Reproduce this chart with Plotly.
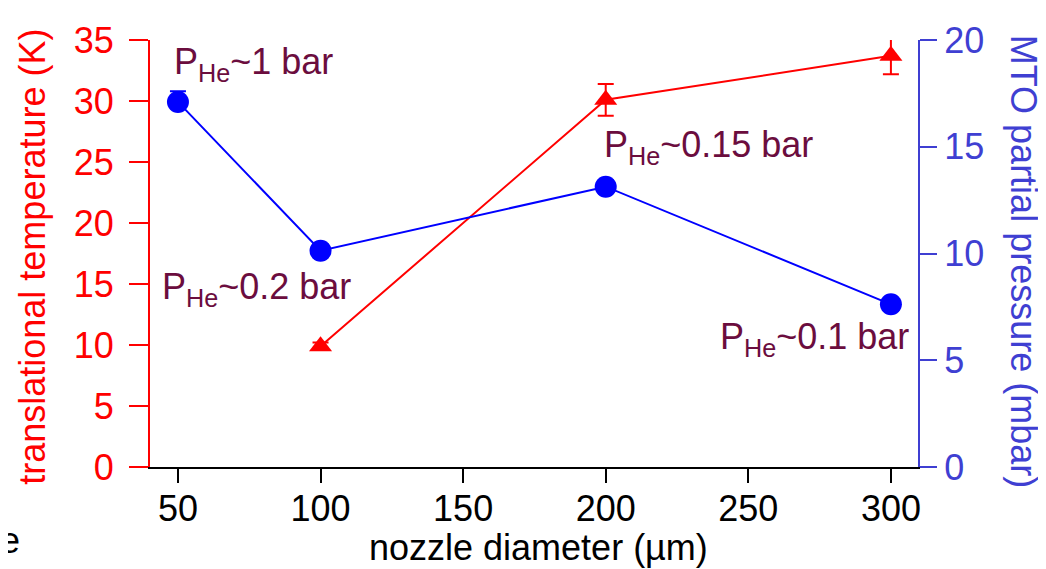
import plotly.graph_objects as go

# data
diam_T = [100, 200, 300]
temp_K = [9.9, 30.1, 33.7]
temp_err = [0.3, 1.3, 1.5]

diam_P = [50, 100, 200, 300]
mto_mbar = [17.1, 10.13, 13.13, 7.62]
mto_err_plus = [0.5, 0.3, 0.3, 0.3]
mto_err_minus = [0.3, 0.3, 0.3, 0.3]

x_ticks = [50, 100, 150, 200, 250, 300]
yl_ticks = [0, 5, 10, 15, 20, 25, 30, 35]
yr_ticks = [0, 5, 10, 15, 20]

labels = ["P<sub>He</sub>~1 bar", "P<sub>He</sub>~0.2 bar", "P<sub>He</sub>~0.15 bar", "P<sub>He</sub>~0.1 bar"]
label_x = [47.9, 43.7, 198.6, 239.4]
label_y = [33.0, 14.6, 26.25, 10.47]

RED = "#FF0000"
BLUE = "#0000FF"
AXBLUE = "#3F3FD2"
LABC = "#6B0D3E"
FONT = "Liberation Sans, Arial, sans-serif"
FS = 36

fig = go.Figure()
fig.add_trace(go.Scatter(
    x=diam_P, y=mto_mbar, yaxis="y2", mode="lines+markers",
    line=dict(color=BLUE, width=2),
    marker=dict(symbol="circle", size=22, color=BLUE),
    error_y=dict(type="data", symmetric=False, array=mto_err_plus,
                 arrayminus=mto_err_minus, color=BLUE, thickness=2, width=8),
    showlegend=False))
fig.add_trace(go.Scatter(
    x=diam_T, y=temp_K, mode="lines+markers",
    line=dict(color=RED, width=2),
    marker=dict(symbol="triangle-up", size=20, color=RED),
    error_y=dict(type="data", array=temp_err, color=RED, thickness=2, width=8),
    showlegend=False))

for t, x, y in zip(labels, label_x, label_y):
    fig.add_annotation(x=x, y=y, xref="x", yref="y", text=t, showarrow=False,
                       xanchor="left", yanchor="middle",
                       font=dict(family=FONT, size=FS, color=LABC))

fig.add_annotation(x=-0.153, y=0.4935, xref="paper", yref="paper",
                   text="translational temperature (K)", textangle=-90,
                   xanchor="center", yanchor="middle",
                   showarrow=False, font=dict(family=FONT, size=FS, color=RED))
fig.add_annotation(x=1.1367, y=0.4807, xref="paper", yref="paper",
                   text="MTO partial pressure (mbar)", textangle=90,
                   xanchor="center", yanchor="middle",
                   showarrow=False, font=dict(family=FONT, size=FS, color=AXBLUE))
fig.add_annotation(x=0.5059, y=-0.1895, xref="paper", yref="paper",
                   text="nozzle diameter (µm)", showarrow=False,
                   xanchor="center", yanchor="middle",
                   font=dict(family=FONT, size=FS, color="black"))
fig.add_annotation(x=-0.198, y=-0.171, xref="paper", yref="paper", text="e",
                   xanchor="left", yanchor="middle", showarrow=False,
                   font=dict(family=FONT, size=FS, color="black"))

fig.update_layout(
    width=1038, height=561,
    margin=dict(l=142, r=128, t=30, b=102),
    paper_bgcolor="white", plot_bgcolor="white",
    font=dict(family=FONT, size=FS),
    xaxis=dict(range=[40.2, 309.5], tickvals=x_ticks, showgrid=False, zeroline=False,
               showline=True, linecolor="black", linewidth=2,
               ticks="outside", ticklen=14, tickwidth=2, tickcolor="black",
               ticklabelstandoff=-5,
               tickfont=dict(family=FONT, size=FS, color="black")),
    yaxis=dict(range=[0, 35], tickvals=yl_ticks, showgrid=False, zeroline=False,
               showline=True, linecolor=RED, linewidth=2,
               ticks="outside", ticklen=19, tickwidth=2, tickcolor=RED,
               ticklabelstandoff=8,
               tickfont=dict(family=FONT, size=FS, color=RED)),
    yaxis2=dict(range=[0, 20], tickvals=yr_ticks, overlaying="y", side="right",
                showgrid=False, zeroline=False,
                showline=True, linecolor=AXBLUE, linewidth=2,
                ticks="outside", ticklen=17, tickwidth=2, tickcolor=AXBLUE,
                tickfont=dict(family=FONT, size=FS, color=AXBLUE)),
)

fig.write_html("out.html")
